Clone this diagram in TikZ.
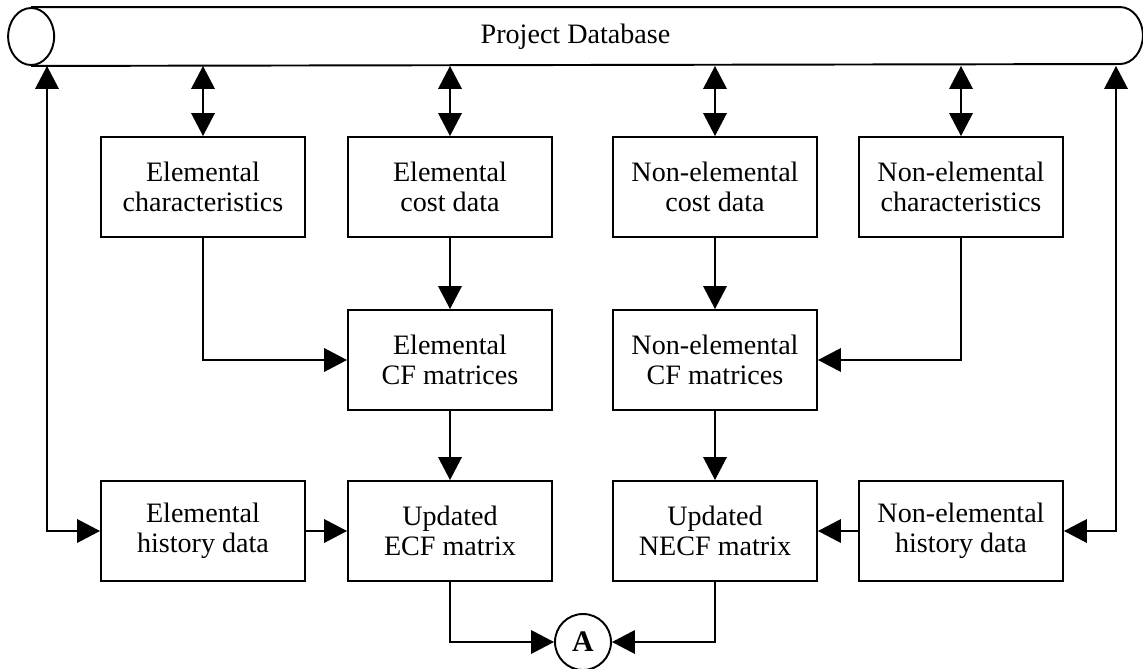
\documentclass[tikz,border=0pt]{standalone}
\usepackage{fontspec}
\setmainfont{Liberation Serif}
\usetikzlibrary{positioning,
        arrows.meta}

\begin{document}
\begin{tikzpicture}[x=0.02cm,y=-0.02cm,
        line width=1.1pt,
        >={Triangle[length=0.46cm,width=0.47cm]},
        box/.style={rectangle,draw,minimum width=4.08cm,minimum height=2cm,
            align=center,font=\fontsize{16}{17}\selectfont},
        conn/.style={circle,draw,minimum size=1.12cm,inner sep=0pt,
            font=\fontsize{17}{19}\selectfont\bfseries}]
        \useasboundingbox (0,0) rectangle (1143,669);

        % database
        \node [minimum width=21.74cm,minimum height=1.14cm,inner sep=0pt,
            font=\fontsize{16}{19}\selectfont] (db) at (575.5,36.5) {Project Database};
        \draw (db.north west) -- (db.north east)
            arc [start angle=90,end angle=-90,x radius=0.46cm,y radius=0.57cm]
            -- (db.south west);
        \draw (db.west) ellipse [x radius=0.46cm,y radius=0.57cm];

        \node [box] (ec) at (203,187) {Elemental\\characteristics};
        \node [box] (ecd) at (450,187) {Elemental\\cost data};
        \node [box] (ncd) at (715,187) {Non-elemental\\cost data};
        \node [box] (nc) at (961,187) {Non-elemental\\characteristics};

        \node [box] (ecf) at (450,360) {Elemental\\CF matrices};
        \node [box] (ncf) at (715,360) {Non-elemental\\CF matrices};

        \node [box] (eh) at (203,531) {Elemental\\history data};
        \node [box] (uecf) at (450,531) {Updated\\ECF matrix};
        \node [box] (uncf) at (715,531) {Updated\\NECF matrix};
        \node [box] (nh) at (961,531) {Non-elemental\\history data};

        \node [conn] (a) at (583,642) {A};

        \coordinate (lft) at (47,531);
        \coordinate (rgt) at (1116,531);

        \draw [<->] (ec.north) -- (ec.north |- db.south);
        \draw [<->] (ecd.north) -- (ecd.north |- db.south);
        \draw [<->] (ncd.north) -- (ncd.north |- db.south);
        \draw [<->] (nc.north) -- (nc.north |- db.south);

        \draw [->] (ec.south) |- (ecf.west);
        \draw [->] (ecd) -- (ecf);
        \draw [->] (ncd) -- (ncf);
        \draw [->] (nc.south) |- (ncf.east);

        \draw [->] (ecf) -- (uecf);
        \draw [->] (ncf) -- (uncf);
        \draw [->] (eh) -- (uecf);
        \draw [->] (nh) -- (uncf);

        \draw [<->] (eh.west) -- (lft) -- (lft |- db.south);
        \draw [<->] (nh.east) -- (rgt) -- (rgt |- db.south);

        \draw [->] (uecf.south) |- (a.west);
        \draw [->] (uncf.south) |- (a.east);
    \end{tikzpicture}
\end{document}
